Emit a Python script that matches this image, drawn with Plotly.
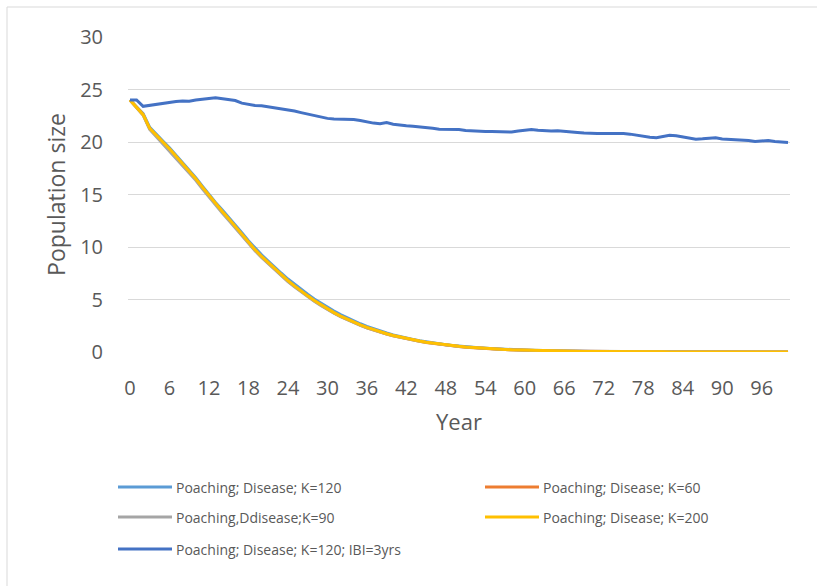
import plotly.graph_objects as go

# Simulated population trajectories over 100 years
years = list(range(101))

series_names = [
    "Poaching; Disease; K=120",
    "Poaching; Disease; K=60",
    "Poaching,Ddisease;K=90",
    "Poaching; Disease; K=200",
    "Poaching; Disease; K=120; IBI=3yrs",
]
series_colors = ["#5B9BD5", "#ED7D31", "#A5A5A5", "#FFC000", "#4472C4"]

pop_k120 = [
    24.0, 23.35, 22.7, 21.4, 20.7, 20.1, 19.45, 18.75, 18.05, 17.35,
    16.6, 15.8, 15.0, 14.25, 13.55, 12.85, 12.1, 11.35, 10.6, 9.9,
    9.25, 8.65, 8.05, 7.5, 6.95, 6.45, 5.95, 5.5, 5.05, 4.65,
    4.25, 3.9, 3.56, 3.25, 2.96, 2.69, 2.44, 2.21, 2.0, 1.81,
    1.63, 1.47, 1.33, 1.2, 1.08, 0.97, 0.87, 0.78, 0.7, 0.63,
    0.56, 0.5, 0.45, 0.4, 0.36, 0.32, 0.28, 0.25, 0.22, 0.2,
    0.18, 0.16, 0.14, 0.12, 0.11, 0.1, 0.09, 0.08, 0.07, 0.06,
    0.05, 0.045, 0.04, 0.035, 0.03, 0.027, 0.024, 0.021, 0.019, 0.017,
    0.015, 0.013, 0.012, 0.011, 0.01, 0.009, 0.008, 0.007, 0.006, 0.005,
    0.005, 0.004, 0.004, 0.003, 0.003, 0.003, 0.002, 0.002, 0.002, 0.002,
    0.001,
]

pop_k60 = [
    24.0, 23.3, 22.6, 21.25, 20.55, 19.95, 19.3, 18.6, 17.9, 17.2,
    16.45, 15.65, 14.85, 14.05, 13.35, 12.65, 11.9, 11.15, 10.4, 9.7,
    9.05, 8.45, 7.85, 7.3, 6.75, 6.25, 5.76, 5.31, 4.87, 4.47,
    4.07, 3.72, 3.39, 3.09, 2.81, 2.55, 2.31, 2.1, 1.9, 1.72,
    1.55, 1.4, 1.26, 1.13, 1.02, 0.91, 0.82, 0.73, 0.65, 0.58,
    0.52, 0.46, 0.41, 0.36, 0.32, 0.29, 0.26, 0.23, 0.2, 0.18,
    0.16, 0.14, 0.12, 0.11, 0.1, 0.09, 0.08, 0.07, 0.06, 0.05,
    0.045, 0.04, 0.035, 0.03, 0.027, 0.024, 0.021, 0.019, 0.017, 0.015,
    0.013, 0.012, 0.01, 0.009, 0.008, 0.007, 0.006, 0.006, 0.005, 0.004,
    0.004, 0.003, 0.003, 0.003, 0.002, 0.002, 0.002, 0.001, 0.001, 0.001,
    0.001,
]

pop_k90 = [
    24.0, 23.25, 22.55, 21.2, 20.5, 19.9, 19.2, 18.5, 17.8, 17.1,
    16.35, 15.55, 14.75, 13.95, 13.25, 12.55, 11.8, 11.05, 10.35, 9.65,
    9.0, 8.4, 7.8, 7.25, 6.7, 6.2, 5.72, 5.27, 4.83, 4.43,
    4.04, 3.69, 3.37, 3.07, 2.8, 2.54, 2.3, 2.09, 1.89, 1.71,
    1.55, 1.4, 1.26, 1.13, 1.02, 0.92, 0.83, 0.74, 0.66, 0.59,
    0.53, 0.47, 0.42, 0.37, 0.33, 0.29, 0.26, 0.23, 0.21, 0.18,
    0.16, 0.14, 0.13, 0.11, 0.1, 0.09, 0.08, 0.07, 0.06, 0.05,
    0.045, 0.04, 0.035, 0.03, 0.027, 0.024, 0.021, 0.019, 0.017, 0.015,
    0.013, 0.012, 0.01, 0.009, 0.008, 0.007, 0.006, 0.006, 0.005, 0.004,
    0.004, 0.003, 0.003, 0.003, 0.002, 0.002, 0.002, 0.001, 0.001, 0.001,
    0.001,
]

pop_k200 = [
    24.0, 23.3, 22.6, 21.3, 20.6, 20.0, 19.35, 18.65, 17.95, 17.25,
    16.5, 15.7, 14.9, 14.1, 13.4, 12.7, 11.95, 11.2, 10.45, 9.75,
    9.1, 8.5, 7.9, 7.35, 6.8, 6.3, 5.8, 5.35, 4.9, 4.5,
    4.1, 3.75, 3.42, 3.12, 2.84, 2.58, 2.34, 2.12, 1.92, 1.74,
    1.57, 1.42, 1.28, 1.15, 1.04, 0.93, 0.84, 0.75, 0.67, 0.6,
    0.54, 0.48, 0.43, 0.38, 0.34, 0.3, 0.27, 0.24, 0.21, 0.19,
    0.17, 0.15, 0.13, 0.12, 0.1, 0.09, 0.08, 0.07, 0.06, 0.055,
    0.05, 0.04, 0.036, 0.032, 0.028, 0.025, 0.022, 0.02, 0.018, 0.016,
    0.014, 0.012, 0.011, 0.01, 0.009, 0.008, 0.007, 0.006, 0.005, 0.005,
    0.004, 0.004, 0.003, 0.003, 0.003, 0.002, 0.002, 0.002, 0.002, 0.001,
    0.001,
]

pop_k120_ibi3 = [
    24.0, 24.0, 23.4, 23.5, 23.6, 23.65, 23.75, 23.85, 23.9, 23.88,
    24.0, 24.1, 24.15, 24.22, 24.15, 24.05, 23.95, 23.7, 23.55, 23.47,
    23.45, 23.35, 23.3, 23.2, 23.05, 22.95, 22.8, 22.65, 22.5, 22.35,
    22.25, 22.2, 22.18, 22.15, 22.15, 22.05, 21.9, 21.8, 21.75, 21.85,
    21.7, 21.6, 21.55, 21.5, 21.45, 21.38, 21.3, 21.22, 21.2, 21.2,
    21.2, 21.1, 21.05, 21.03, 21.0, 21.0, 20.98, 20.95, 20.95, 21.05,
    21.15, 21.2, 21.12, 21.05, 21.05, 21.08, 21.0, 20.95, 20.9, 20.85,
    20.8, 20.8, 20.82, 20.83, 20.82, 20.8, 20.75, 20.65, 20.5, 20.45,
    20.4, 20.5, 20.65, 20.6, 20.5, 20.35, 20.27, 20.3, 20.35, 20.4,
    20.28, 20.25, 20.22, 20.2, 20.15, 20.05, 20.1, 20.15, 20.05, 20.0,
    19.95,
]

series_values = [pop_k120, pop_k60, pop_k90, pop_k200, pop_k120_ibi3]

x_ticks = list(range(0, 100, 6))
y_ticks = [0, 5, 10, 15, 20, 25, 30]

FONT = "Open Sans"
TEXT = "#595959"
GRID = "#D9D9D9"

W, H = 817, 586
ML, MR, MT, MB = 128, 27, 37, 234
PW, PH = W - ML - MR, H - MT - MB


def px_x(p):
    return (p - ML) / PW


def px_y(p):
    return (H - MB - p) / PH


fig = go.Figure()
for name, vals, col in zip(series_names, series_values, series_colors):
    fig.add_trace(go.Scatter(
        x=years[:len(vals)], y=vals, mode="lines", name=name,
        line=dict(color=col, width=3), showlegend=False,
    ))

# Legend drawn as line samples and labels beneath the plot
legend_cols = [(118, 172), (485, 539)]
legend_rows = [487, 517, 549]
shapes = []
annotations = []
for i, (name, col) in enumerate(zip(series_names, series_colors)):
    cx0, cx1 = legend_cols[i % 2]
    ry = legend_rows[i // 2]
    shapes.append(dict(type="line", xref="paper", yref="paper",
                       x0=px_x(cx0), x1=px_x(cx1), y0=px_y(ry), y1=px_y(ry),
                       line=dict(color=col, width=3)))
    annotations.append(dict(xref="paper", yref="paper", x=px_x(cx1 + 2), y=px_y(ry),
                            text=name, showarrow=False, xanchor="left", yanchor="middle",
                            font=dict(family=FONT, size=14, color=TEXT)))

# Chart-area border
shapes.append(dict(type="rect", xref="paper", yref="paper", layer="below",
                   x0=px_x(7), x1=px_x(840), y0=px_y(7), y1=px_y(620),
                   line=dict(color=GRID, width=1), fillcolor="rgba(0,0,0,0)"))

fig.update_layout(
    width=W, height=H,
    margin=dict(l=ML, r=MR, t=MT, b=MB),
    paper_bgcolor="white", plot_bgcolor="white",
    font=dict(family=FONT, color=TEXT),
    shapes=shapes, annotations=annotations,
    xaxis=dict(
        range=[-0.3, 100.3], tickmode="array", tickvals=x_ticks,
        ticktext=[str(v) for v in x_ticks], showgrid=False, zeroline=False,
        showline=False, ticks="", ticklabelstandoff=22,
        tickfont=dict(family=FONT, size=20, color=TEXT),
        title=dict(text="Year", font=dict(family=FONT, size=22, color=TEXT), standoff=14),
    ),
    yaxis=dict(
        range=[0, 30], tickmode="array", tickvals=y_ticks,
        showgrid=True, gridcolor=GRID, gridwidth=1.3, zeroline=False,
        showline=False, ticks="", ticklabelstandoff=24,
        tickfont=dict(family=FONT, size=20, color=TEXT),
        title=dict(text="Population size", font=dict(family=FONT, size=23, color=TEXT), standoff=8),
    ),
)

fig.write_html("out.html")
